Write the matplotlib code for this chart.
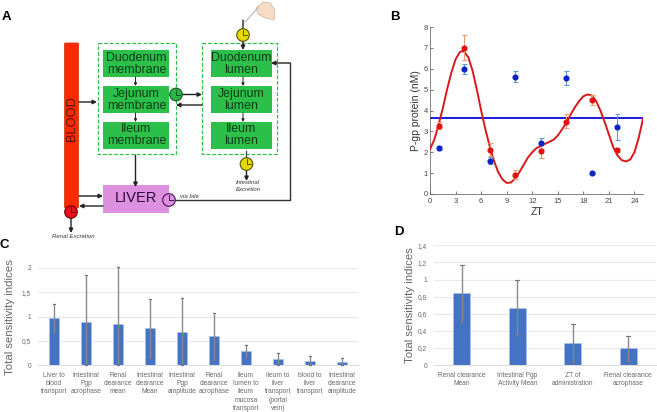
import matplotlib
matplotlib.use('Agg')
import matplotlib.pyplot as plt
from matplotlib.patches import Rectangle, Circle, Polygon, FancyBboxPatch

W, H = 657, 412

# panel B
zt_pts = [1, 4, 7, 10, 13, 16, 19, 22]
red_vals = [3.28, 7.0, 2.1, 0.9, 2.05, 3.47, 4.5, 2.1]
red_low = [3.1, 6.4, 1.8, 0.7, 1.72, 3.15, 4.25, 2.0]
red_high = [3.45, 7.6, 2.45, 1.15, 2.4, 3.83, 4.75, 2.2]
blue_vals = [2.2, 5.98, 1.58, 5.6, 2.42, 5.56, 1.0, 3.2]
blue_low = [2.1, 5.73, 1.42, 5.35, 2.17, 5.22, 0.95, 2.6]
blue_high = [2.3, 6.23, 1.75, 5.87, 2.67, 5.9, 1.05, 3.83]
curve_x = [0, .5, 1, 1.5, 2, 2.5, 3, 3.5, 3.8, 4, 4.5, 5, 5.5, 6, 6.5, 7, 7.5, 8, 8.5, 9, 9.5, 10, 10.5, 11, 11.5,
           12, 12.5, 13, 13.5, 14, 14.5, 15, 15.5, 16, 16.5, 17, 17.5, 18, 18.5, 19, 19.5, 20, 20.5, 21, 21.5,
           22, 22.5, 23, 23.5, 24, 24.5, 25]
curve_y = [2.15, 2.6, 3.3, 4.1, 5.0, 5.8, 6.45, 6.8, 6.85, 6.82, 6.55, 5.9, 5.0, 4.0, 3.1, 2.3, 1.6, 1.05, .7, .53, .55, .75, 1.05, 1.4, 1.75,
           2.0, 2.2, 2.3, 2.4, 2.5, 2.6, 2.8, 3.1, 3.4, 3.8, 4.15, 4.45, 4.68, 4.77, 4.72, 4.45, 4.0, 3.45, 2.85, 2.25,
           1.85, 1.62, 1.56, 1.65, 2.0, 2.7, 3.6]
mesor = 3.62

# panel C
c_labels = ['Liver to\nblood\ntransport', 'Intestinal\nPgp\nacrophase', 'Renal\nclearance\nmean',
            'Intestinal\nclearance\nMean', 'Intestinal\nPgp\namplitude', 'Renal\nclearance\nacrophase',
            'ileum\nlumen to\nileum\nmucosa\ntransport', 'ileum to\nliver\ntransport\n(portal\nvein)',
            'blood to\nliver\ntransport', 'Intestinal\nclearance\namplitude']
c_vals = [0.97, 0.89, 0.84, 0.76, 0.69, 0.59, 0.29, 0.12, 0.09, 0.07]
c_low = [0.68, 0.0, 0.0, 0.15, 0.0, 0.1, 0.16, 0.0, 0.0, 0.0]
c_high = [1.25, 1.85, 2.03, 1.36, 1.38, 1.07, 0.41, 0.24, 0.18, 0.15]
c_ticks = [0, 0.5, 1, 1.5, 2]
c_ticklabels = ['0', '0,5', '1', '1,5', '2']

# panel D
d_labels = ['Renal clearance\nMean', 'Intestinal Pgp\nActivity Mean', 'ZT of\nadministration', 'Renal clearance\nacrophase']
d_vals = [0.84, 0.67, 0.26, 0.20]
d_low = [0.5, 0.35, 0.03, 0.05]
d_high = [1.17, 0.99, 0.48, 0.34]
d_ticks = [0, 0.2, 0.4, 0.6, 0.8, 1, 1.2, 1.4]
d_ticklabels = ['0', '0,2', '0,4', '0,6', '0,8', '1', '1,2', '1,4']

membrane = ['Duodenum\nmembrane', 'Jejunum\nmembrane', 'Ileum\nmembrane']
lumen = ['Duodenum\nlumen', 'Jejunum\nlumen', 'Ileum\nlumen']

GREEN = '#2cc04a'
BAR = '#4472c4'


def box_ax(x0, y0, x1, y1):
    # pixel box, y measured from the top
    return fig.add_axes([x0 / W, 1 - y1 / H, (x1 - x0) / W, (y1 - y0) / H])


def flecha(p0, p1, lw=1.0, ms=6):
    bg.annotate('', xy=p1, xytext=p0, zorder=4,
                arrowprops=dict(arrowstyle='-|>', lw=lw, color='#222222', mutation_scale=ms, shrinkA=0, shrinkB=0))


def reloj(x, y, color, edge):
    bg.add_patch(Circle((x, y), 6.3, fc=color, ec=edge, lw=0.8, zorder=5))
    bg.plot([x, x, x + 4], [y - 5, y, y], color=edge, lw=0.7, zorder=6)


def barras(ax, vals, low, high, labels, ticks, ticklabels, ymax, width, fs):
    pos = list(range(len(vals)))
    ax.bar(pos, vals, width=width, color=BAR, ec='#a9c1e8', lw=0.5, zorder=2)
    for x, lo, hi in zip(pos, low, high):
        ax.plot([x, x], [lo, hi], color='#8a8a8a', lw=1.0, zorder=3, clip_on=False)
        ax.plot([x - 0.04, x + 0.04], [hi, hi], color='#777777', lw=0.8, zorder=3, clip_on=False)
        ax.plot([x - 0.04, x + 0.04], [lo, lo], color='#777777', lw=0.8, zorder=3, clip_on=False)
    ax.set_ylim(0, ymax)
    ax.set_xlim(-0.5, len(vals) - 0.5)
    ax.set_xticks(pos)
    ax.set_xticklabels(labels, fontsize=fs, color='#6a6a6a', linespacing=1.25)
    ax.set_yticks(ticks)
    ax.set_yticklabels(ticklabels, fontsize=fs, color='#6a6a6a')
    ax.tick_params(length=0, pad=5)
    ax.grid(axis='y', color='#e9e9e9', lw=0.8, zorder=0)
    for s in ['top', 'right', 'left']:
        ax.spines[s].set_visible(False)
    ax.spines['bottom'].set_color('#dcdcdc')
    ax.patch.set_alpha(0)


plt.rcParams['font.family'] = ['Liberation Sans', 'DejaVu Sans']
fig = plt.figure(figsize=(W / 100, H / 100), dpi=100)

# fondo en pixeles para el esquema del panel A
bg = fig.add_axes([0, 0, 1, 1])
bg.set_xlim(0, W)
bg.set_ylim(H, 0)
bg.axis('off')

bg.text(2, 17, 'A', fontsize=9.5, fontweight='bold', va='center')
bg.text(390, 17, 'B', fontsize=9.5, fontweight='bold', va='center')
bg.text(0, 245, 'C', fontsize=9.5, fontweight='bold', va='center')
bg.text(394, 232, 'D', fontsize=9.5, fontweight='bold', va='center')

# sangre
bg.add_patch(FancyBboxPatch((64.5, 43), 14, 165, boxstyle='round,pad=0,rounding_size=1', fc='#fb2a00', ec='#d93a10', lw=0.6))
bg.text(71.5, 118.5, 'BLOOD', rotation=90, fontsize=9.3, ha='center', va='center', color='#5a1200')

# compartimentos
bg.add_patch(Rectangle((97.5, 42.5), 78, 111.5, fc='white', ec=GREEN, lw=0.9, ls=(0, (3, 1.5))))
bg.add_patch(Rectangle((202, 43), 75, 111, fc='white', ec=GREEN, lw=0.9, ls=(0, (3, 1.5))))
for y0, a, b in zip([50, 86, 122], membrane, lumen):
    bg.add_patch(Rectangle((103, y0), 65.5, 26.5, fc=GREEN, ec='none'))
    bg.add_patch(Rectangle((210.5, y0), 61, 26.5, fc=GREEN, ec='none'))
    bg.text(136.5, y0 + 13.5, a, fontsize=8.9, ha='center', va='center', color='#0d3d18', linespacing=1.0)
    bg.text(241, y0 + 13.5, b, fontsize=8.9, ha='center', va='center', color='#0d3d18', linespacing=1.0)

# higado
bg.add_patch(Rectangle((103, 185), 66, 28, fc='#dd90dd', ec='none'))
bg.text(135.5, 198, 'LIVER', fontsize=10.5, ha='center', va='center', color='#2a0a3a')

# flechas
flecha((135.5, 77), (135.5, 86), 0.7, 4)
flecha((135.5, 113), (135.5, 122), 0.7, 4)
flecha((243, 77), (243, 86), 0.7, 4)
flecha((243, 113), (243, 122), 0.7, 4)
flecha((79, 102), (97, 102))
flecha((182, 94.5), (202, 94.5))
flecha((202, 105), (176, 105))
flecha((135.5, 155), (135.5, 187))
flecha((79, 196), (103, 196))
flecha((103, 206), (79, 206))
flecha((71, 218), (71, 233))
flecha((243, 20), (243, 50))
flecha((246.5, 170), (246.5, 181))
bg.plot([246, 246], [151, 158], color='#444444', lw=0.9)
bg.plot([175, 290, 290], [199.5, 199.5, 63], color='#333333', lw=1.0)
flecha((290, 63), (271, 63))

# relojes
reloj(243, 35, '#e6d800', '#555500')
reloj(176, 94.5, '#2cb34a', '#0d5a20')
reloj(246.5, 164, '#e6d800', '#555500')
reloj(169, 200, '#dd90dd', '#4a1060')
reloj(71, 212, '#e8101a', '#700000')

bg.text(73.5, 236, 'Renal Excretion', fontsize=4.3, style='italic', ha='center', va='center', color='#333333')
bg.text(248, 186, 'Intestinal\nExcretion', fontsize=4.3, style='italic', ha='center', va='center', color='#333333', linespacing=1.5)
bg.text(180, 196, 'via bile', fontsize=4.3, style='italic', va='center', color='#333333')

# mano con la jeringa
bg.add_patch(Polygon([(256, 8), (263, 2), (270, 3), (275, 10), (274, 20), (265, 18), (258, 14)], fc='#f6dcc4', ec='#cbb39c', lw=0.5))
bg.plot([245, 258], [22, 8], color='#bdbdbd', lw=0.9)

# panel B
axb = box_ax(430, 27, 643, 194)
axb.plot(curve_x, curve_y, color='#d8181c', lw=1.4, zorder=3)
axb.plot([0, 25], [mesor, mesor], color='#1a1ae0', lw=1.4, zorder=2)
for vals, low, high, col, ecol in [(blue_vals, blue_low, blue_high, '#0a22c8', '#5b9bd5'),
                                   (red_vals, red_low, red_high, '#e01010', '#ed9a6a')]:
    err = [[v - l for v, l in zip(vals, low)], [h - v for v, h in zip(vals, high)]]
    axb.errorbar(zt_pts, vals, yerr=err, fmt='none', ecolor=ecol, elinewidth=0.8, capsize=1.8, capthick=0.8, zorder=4)
    axb.plot(zt_pts, vals, 'o', color=col, ms=3.4, zorder=5)
axb.set_xlim(0, 25)
axb.set_ylim(0, 8)
axb.set_xticks(range(0, 25, 3))
axb.set_yticks(range(0, 9))
axb.tick_params(labelsize=5.5, length=2, width=0.5, colors='#444444', direction='in')
axb.tick_params(axis='x', pad=3)
axb.tick_params(axis='y', pad=1.5)
axb.set_xlabel('ZT', fontsize=7.5, labelpad=1.5, color='#333333')
axb.set_ylabel('P-gp protein (nM)', fontsize=7.5, labelpad=2, color='#333333')
for s in ['top', 'right']:
    axb.spines[s].set_visible(False)
for s in ['left', 'bottom']:
    axb.spines[s].set_linewidth(0.5)
    axb.spines[s].set_color('#555555')
axb.patch.set_alpha(0)

# panel C
axc = box_ax(38, 268, 358, 365)
barras(axc, c_vals, c_low, c_high, c_labels, c_ticks, c_ticklabels, 2, 0.31, 4.8)
bg.text(10, 317.5, 'Total sensitivity indices', rotation=90, fontsize=8.2, ha='center', va='center', color='#666666')

# panel D
axd = box_ax(434, 245.3, 656, 365)
barras(axd, d_vals, d_low, d_high, d_labels, d_ticks, d_ticklabels, 1.4, 0.31, 4.8)
bg.text(410, 305, 'Total sensitivity indices', rotation=90, fontsize=8.2, ha='center', va='center', color='#666666')

fig.savefig('out.png', dpi=100)
